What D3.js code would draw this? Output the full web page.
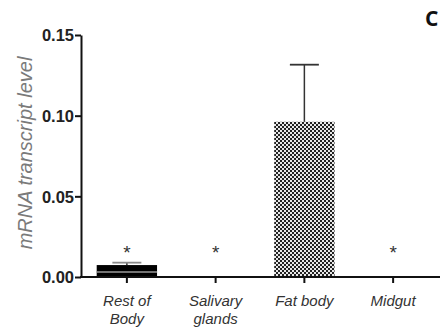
<!DOCTYPE html>
<html>
<head>
<meta charset="utf-8">
<script src="https://cdn.jsdelivr.net/npm/d3@7"></script>
<style>
  html, body { margin: 0; padding: 0; background: #fff; }
  svg { display: block; }
</style>
</head>
<body>
<svg id="chart" width="444" height="330"></svg>
<script>
// Tissue expression data
const tissues = ["Rest of Body", "Salivary glands", "Fat body", "Midgut"];
const tissueLines = [["Rest of", "Body"], ["Salivary", "glands"], ["Fat body"], ["Midgut"]];
const meanLevel = [0.0074, 0.0002, 0.0962, 0.0001];
const errLevel = [0.0015, 0, 0.0354, 0];
const signif = ["*", "*", "", "*"];
const yTicks = [0.00, 0.05, 0.10, 0.15];

const svg = d3.select("#chart");
const margin = { left: 81, top: 35, bottom: 53, right: 4 };
const W = 444, H = 330;

const x = d3.scaleBand()
  .domain(tissues)
  .range([82.5, 437.5])
  .paddingInner(0.32)
  .paddingOuter(0.16);

const y = d3.scaleLinear()
  .domain([0, 0.15])
  .range([H - margin.bottom, margin.top]);

// Fill patterns
const defs = svg.append("defs");
const checker = defs.append("pattern")
  .attr("id", "checker")
  .attr("patternUnits", "userSpaceOnUse")
  .attr("width", 4).attr("height", 4);
checker.append("rect").attr("width", 4).attr("height", 4).attr("fill", "#e8e8e8");
checker.append("rect").attr("x", 0).attr("y", 0).attr("width", 2).attr("height", 2).attr("fill", "#222");
checker.append("rect").attr("x", 2).attr("y", 2).attr("width", 2).attr("height", 2).attr("fill", "#222");

const fills = ["#000", "#000", "url(#checker)", "#000"];

// Bars
const bars = svg.append("g");
tissues.forEach((t, i) => {
  const bx = x(t), bw = x.bandwidth();
  const top = y(meanLevel[i]);
  bars.append("rect")
    .attr("x", bx).attr("y", top)
    .attr("width", bw).attr("height", y(0) - top)
    .attr("fill", fills[i]);
  if (i === 0) {
    // light band across the solid bar
    const mid = y(meanLevel[i] / 2);
    bars.append("line")
      .attr("x1", bx).attr("x2", bx + bw)
      .attr("y1", mid + 1).attr("y2", mid + 1)
      .attr("stroke", "#9a9a9a").attr("stroke-width", 1.5);
  }
  if (errLevel[i] > 0) {
    const cx = bx + bw / 2;
    const et = y(meanLevel[i] + errLevel[i]);
    const capCol = i === 0 ? "#8a8a8a" : "#333";
    bars.append("line")
      .attr("x1", cx).attr("x2", cx)
      .attr("y1", top).attr("y2", et)
      .attr("stroke", "#333").attr("stroke-width", 1.5);
    bars.append("line")
      .attr("x1", cx - 14.5).attr("x2", cx + 14.5)
      .attr("y1", et).attr("y2", et)
      .attr("stroke", capCol).attr("stroke-width", 1.8);
  }
  if (signif[i]) {
    svg.append("text")
      .attr("x", bx + bw / 2).attr("y", y(0.0165) + 9)
      .attr("text-anchor", "middle")
      .attr("font-family", "Liberation Sans, Arial, sans-serif")
      .attr("font-size", 19)
      .attr("fill", "#333")
      .text(signif[i]);
  }
});

// Y axis
const yAxis = svg.append("g")
  .attr("transform", `translate(${margin.left},0)`)
  .call(d3.axisLeft(y).tickValues(yTicks).tickFormat(d3.format(".2f")).tickSize(6).tickSizeOuter(0));
yAxis.select(".domain").attr("stroke", "#111").attr("stroke-width", 2);
yAxis.selectAll(".tick line").attr("stroke", "#111").attr("stroke-width", 2);
yAxis.selectAll(".tick text")
  .attr("x", -7)
  .attr("dy", "0.36em")
  .attr("font-family", "Liberation Sans, Arial, sans-serif")
  .attr("font-size", 16.5)
  .attr("font-weight", "bold")
  .attr("fill", "#222");

// X axis
const xAxis = svg.append("g")
  .attr("transform", `translate(0,${y(0)})`)
  .call(d3.axisBottom(x).tickSize(6).tickSizeOuter(0).tickFormat(""));
xAxis.select(".domain").attr("d", `M${margin.left - 1},0H${W - margin.right}`)
  .attr("stroke", "#111").attr("stroke-width", 2);
xAxis.selectAll(".tick line").attr("stroke", "#111").attr("stroke-width", 2);

// Category labels (two lines where needed)
tissues.forEach((t, i) => {
  const txt = svg.append("text")
    .attr("x", x(t) + x.bandwidth() / 2)
    .attr("y", 306)
    .attr("text-anchor", "middle")
    .attr("font-family", "Liberation Sans, Arial, sans-serif")
    .attr("font-size", 15)
    .attr("font-style", "italic")
    .attr("fill", "#333");
  tissueLines[i].forEach((ln, j) => {
    txt.append("tspan")
      .attr("x", x(t) + x.bandwidth() / 2)
      .attr("dy", j === 0 ? 0 : 18)
      .text(ln);
  });
});

// Y axis title
svg.append("text")
  .attr("transform", "translate(32,153) rotate(-90)")
  .attr("text-anchor", "middle")
  .attr("font-family", "Liberation Sans, Arial, sans-serif")
  .attr("font-size", 20)
  .attr("font-style", "italic")
  .attr("fill", "#7a7a7a")
  .text("mRNA transcript level");

// Panel letter
svg.append("text")
  .attr("x", 425).attr("y", 26)
  .attr("font-family", "Open Sans, Liberation Sans, sans-serif")
  .attr("font-size", 21)
  .attr("font-weight", "bold")
  .attr("fill", "#111")
  .text("C");
</script>
</body>
</html>
